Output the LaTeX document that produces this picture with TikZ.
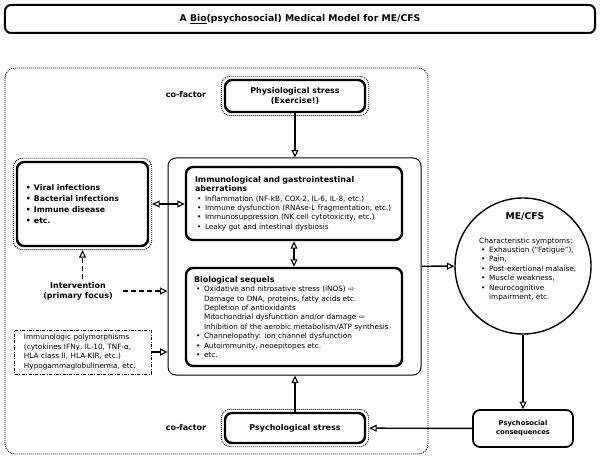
\documentclass[tikz,border=0pt]{standalone}
\usepackage{fontspec}
\setmainfont{DejaVu Sans}
\usetikzlibrary{arrows.meta,fit}
\newcommand{\bodyfont}{\fontsize{7.3}{9.4}\selectfont}
\newcommand{\headfont}{\fontsize{8}{10}\selectfont\bfseries}
\newcommand{\titlefont}{\fontsize{9.3}{11}\selectfont\bfseries}
\newcommand{\bul}{\makebox[10bp][l]{\hspace{2bp}\textbullet}}
\newcommand{\ind}{\hspace*{10bp}}
\begin{document}
\begin{tikzpicture}[x=1bp, y=-1bp,
  thickbox/.style={draw, rounded corners=7bp, line width=2.4bp, align=left},
  ring/.style={draw, dash pattern=on 1bp off 1bp, line width=0.9bp, rounded corners=9bp, inner sep=2.5bp},
  tip/.tip={Triangle[open,length=7.5bp,width=7bp,line width=1.1bp]},
  arr/.style={-tip, line width=1.4bp},
  darr/.style={tip-tip, line width=1.4bp},
  dasharr/.style={arr, dash pattern=on 5bp off 3bp}]
\useasboundingbox (0,0) rectangle (600,465);
\node[draw, rounded corners=6bp, line width=2bp, minimum width=590bp, minimum height=28bp, font=\titlefont] (title) at (300,19) {A \underline{Bio}(psychosocial) Medical Model for ME/CFS};
\draw[dash pattern=on 1bp off 1bp, line width=0.9bp, rounded corners=10bp] (5,68) rectangle (428,454);
% stress factors
\node[thickbox, align=center, minimum width=140bp, minimum height=32bp, font=\headfont] (physio) at (295,96) {Physiological stress\\(Exercise!)};
\node[ring, fit=(physio)] (physioring) {};
\node[font=\headfont] (cof1) at (186,95) {co-factor};
\node[thickbox, align=center, minimum width=140bp, minimum height=30bp, font=\headfont] (psych) at (295,428) {Psychological stress};
\node[ring, fit=(psych)] (psychring) {};
\node[font=\headfont] (cof2) at (186,428) {co-factor};
% core
\node[draw, rounded corners=8bp, line width=1bp, minimum width=253bp, minimum height=217bp] (core) at (294.5,266.5) {};
\node[thickbox, text width=198bp, inner xsep=9bp, minimum height=73bp, font=\bodyfont] (immuno) at (294,203.5) {{\headfont Immunological and gastrointestinal}\\
{\headfont aberrations}\\
\bul Inflammation (NF-kB, COX-2, IL-6, IL-8, etc.)\\
\bul Immune dysfunction (RNAse-L fragmentation, etc.)\\
\bul Immunosuppression (NK cell cytotoxicity, etc.)\\
\bul Leaky gut and intestinal dysbiosis};
\node[thickbox, text width=200bp, inner xsep=8bp, minimum height=98bp, font=\bodyfont] (bio) at (294,317) {{\headfont Biological sequels}\\
\bul Oxidative and nitrosative stress (iNOS) ⇨\\
\ind Damage to DNA, proteins, fatty acids etc.\\
\ind Depletion of antioxidants\\
\ind Mitochondrial dysfunction and/or damage ⇨\\
\ind Inhibition of the aerobic metabolism/ATP synthesis\\
\bul Channelopathy: ion channel dysfunction\\
\bul Autoimmunity, neoepitopes etc.\\
\bul etc.};
% left side
\node[thickbox, text width=117bp, inner xsep=7bp, minimum height=84bp, font=\fontsize{7.8}{11}\selectfont\bfseries] (viral) at (82.5,204) {\bul Viral infections\\
\bul Bacterial infections\\
\bul Immune disease\\
\bul etc.};
\node[ring, fit=(viral)] (viralring) {};
\node[font=\headfont, align=center] (interv) at (78,291) {Intervention\\(primary focus)};
\node[draw, dash pattern=on 3bp off 1.5bp on 0.8bp off 1.5bp, line width=1bp, text width=118bp, inner xsep=9bp, minimum height=44bp, align=left, font=\bodyfont] (poly) at (83,352) {Immunologic polymorphisms\\
(cytokines IFNγ, IL-10, TNF-α,\\
HLA class II, HLA-KIR, etc.)\\
Hypogammaglobulinemia, etc.};
% right side
\node[draw, circle, line width=1.4bp, minimum size=136bp] (mecfs) at (523,266) {};
\node[font=\titlefont] (metitle) at (525,216.5) {ME/CFS};
\node[font=\bodyfont, align=left, anchor=north west, inner sep=0pt] (symptoms) at (479,237.5) {Characteristic symptoms:\\
\bul Exhaustion (“Fatigue”),\\
\bul Pain,\\
\bul Post-exertional malaise,\\
\bul Muscle weakness,\\
\bul Neurocognitive\\
\ind impairment, etc.};
\node[draw, rounded corners=7bp, line width=1.8bp, minimum width=100bp, minimum height=37bp, align=center, font=\fontsize{6.8}{9}\selectfont\bfseries] (psychosoc) at (523,428.5) {Psychosocial\\consequences};
% connectors
\draw[arr] (physio) -- (physio |- core.north);
\draw[darr] (immuno) -- (bio);
\draw[darr] (viralring.east) -- (viralring.east -| immuno.west);
\draw[dasharr] (viral.south |- interv.north) -- (viralring.south);
\draw[dasharr] ([xshift=7bp]interv.east) -- (interv.east -| core.west);
\draw[arr] (poly) -- (poly -| core.west);
\draw[arr] (core) -- (mecfs);
\draw[arr] (mecfs) -- (psychosoc);
\draw[arr] (psychosoc) -- (psychring);
\draw[arr] (psych) -- (psych |- core.south);
\end{tikzpicture}
\end{document}
